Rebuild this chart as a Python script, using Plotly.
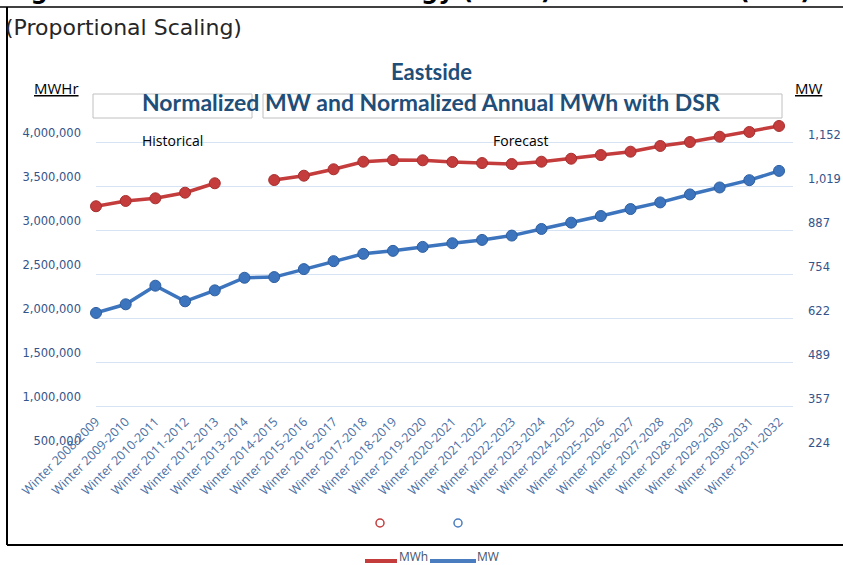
import plotly.graph_objects as go

# ---------------- data ----------------
categories = [f"Winter {y}-{y+1}" for y in range(2008, 2032)]

mwh_values = [3270000, 3330000, 3360000, 3424000, 3531000, None,
              3568000, 3617000, 3690000, 3776000, 3795000, 3792000,
              3773000, 3761000, 3750000, 3776000, 3810000, 3852000,
              3890000, 3955000, 4000000, 4060000, 4114000, 4182000]

mw_values = [637, 663, 719, 672, 705, 743, 745, 769, 793, 815, 824, 836,
             847, 857, 870, 890, 909, 929, 950, 970, 994, 1015, 1037, 1065]

left_tickvals = [500000, 1000000, 1500000, 2000000, 2500000, 3000000, 3500000, 4000000]
left_ticktext = ["500,000", "1,000,000", "1,500,000", "2,000,000", "2,500,000",
                 "3,000,000", "3,500,000", "4,000,000"]
grid_vals = [1000000, 1500000, 2000000, 2500000, 3000000, 3500000, 4000000, 4500000]
right_tickvals = [224, 357, 489, 622, 754, 887, 1019, 1152]
right_ticktext = ["224", "357", "489", "622", "754", "887", "1,019", "1,152"]
legend_names = ["MWh", "MW"]

RED = "#C43C3C"
BLUE = "#3C74BE"
LEG_BLUE = "#4A7CC0"
TICK = "#34548A"

# ---------------- geometry helpers (pixel -> paper) ----------------
L, R, T, B = 96, 50, 98, 115
W, H = 843, 565
PW, PH = W - L - R, H - T - B


def X(px):
    return (px - L) / PW


def Y(py):
    return (H - B - py) / PH


fig = go.Figure()

fig.add_trace(go.Scatter(
    x=categories, y=mwh_values, name=legend_names[0], mode="lines+markers",
    line=dict(color=RED, width=3.5), connectgaps=False,
    marker=dict(size=11, color=RED, line=dict(color="#A83030", width=1)),
    cliponaxis=False, showlegend=False, yaxis="y"))

fig.add_trace(go.Scatter(
    x=categories, y=mw_values, name=legend_names[1], mode="lines+markers",
    line=dict(color=BLUE, width=3.5),
    marker=dict(size=11, color=BLUE, line=dict(color="#2F5F9F", width=1)),
    cliponaxis=False, showlegend=False, yaxis="y2"))

fig.update_layout(
    width=W, height=H,
    margin=dict(l=L, r=R, t=T, b=B, autoexpand=False),
    paper_bgcolor="white", plot_bgcolor="white",
    font=dict(family="Open Sans", size=12, color=TICK),
    showlegend=False,
    xaxis=dict(
        type="category", range=[0, 23.47], showgrid=False, showline=False,
        zeroline=False, ticks="", tickangle=-45, anchor="free", position=Y(411),
        tickfont=dict(family="Open Sans", size=12.5, color="#4A6FA5")),
    yaxis=dict(
        range=[500000, 4500000], tickvals=left_tickvals, ticktext=left_ticktext,
        showgrid=False, zeroline=False, showline=False, ticks="",
        ticklabelstandoff=14, ticklabelshift=-9,
        tickfont=dict(family="DejaVu Sans", size=11.5, color=TICK),
        minor=dict(tickvals=grid_vals, showgrid=True, gridcolor="#D5E3F4",
                   gridwidth=1.2, ticks="")),
    yaxis2=dict(
        range=[224, 224 + 8 * 928 / 7], overlaying="y", side="right",
        tickvals=right_tickvals, ticktext=right_ticktext,
        showgrid=False, zeroline=False, showline=False, ticks="",
        ticklabelstandoff=14, ticklabelshift=-7,
        tickfont=dict(family="DejaVu Sans", size=11.5, color=TICK)),
)

shapes = []
# text-box outlines behind subtitle
shapes.append(dict(type="rect", xref="paper", yref="paper",
                   x0=X(93), x1=X(252), y0=Y(118), y1=Y(94),
                   line=dict(color="#C0C0C0", width=1), layer="below"))
shapes.append(dict(type="rect", xref="paper", yref="paper",
                   x0=X(263), x1=X(782), y0=Y(118), y1=Y(94),
                   line=dict(color="#C0C0C0", width=1), layer="below"))
# outer frame lines
shapes.append(dict(type="line", xref="paper", yref="paper",
                   x0=X(0), x1=X(843), y0=Y(7), y1=Y(7),
                   line=dict(color="black", width=1.5)))
shapes.append(dict(type="line", xref="paper", yref="paper",
                   x0=X(7), x1=X(7), y0=Y(7), y1=Y(545),
                   line=dict(color="black", width=2)))
shapes.append(dict(type="line", xref="paper", yref="paper",
                   x0=X(7), x1=X(843), y0=Y(545), y1=Y(545),
                   line=dict(color="black", width=2)))
# small legend-marker circles
for cx, col in [(380, RED), (458, LEG_BLUE)]:
    shapes.append(dict(type="circle", xref="paper", yref="paper",
                       x0=X(cx - 4), x1=X(cx + 4), y0=Y(527), y1=Y(519),
                       line=dict(color=col, width=1.5)))
# legend lines
shapes.append(dict(type="line", xref="paper", yref="paper",
                   x0=X(365), x1=X(397), y0=Y(561), y1=Y(561),
                   line=dict(color=RED, width=4)))
shapes.append(dict(type="line", xref="paper", yref="paper",
                   x0=X(430), x1=X(476), y0=Y(561), y1=Y(561),
                   line=dict(color=LEG_BLUE, width=4)))
fig.update_layout(shapes=shapes)

ann = []
ann.append(dict(text="<b>Figure 6.10: PSE's Winter Energy (MWh) and Demand (MW)</b>",
                x=X(4), y=Y(7.5), xanchor="left", yanchor="bottom",
                font=dict(family="DejaVu Sans", size=24, color="black")))
ann.append(dict(text="(Proportional Scaling)", x=X(3), y=Y(28),
                xanchor="left", yanchor="middle",
                font=dict(family="DejaVu Sans", size=22, color="#262626")))
ann.append(dict(text="<b>Eastside</b>", x=X(431), y=Y(72),
                xanchor="center", yanchor="middle",
                font=dict(family="Lato", size=22, color="#1F4E79")))
ann.append(dict(text="<b>Normalized MW and Normalized Annual MWh with DSR</b>",
                x=X(431), y=Y(102), xanchor="center", yanchor="middle",
                font=dict(family="Lato", size=23, color="#1F4E79")))
ann.append(dict(text="<span style='text-decoration:underline'>MWHr</span>",
                x=X(32), y=Y(88), xanchor="left", yanchor="middle",
                font=dict(family="Open Sans", size=15, color="black")))
ann.append(dict(text="<span style='text-decoration:underline'>MW</span>",
                x=X(793), y=Y(88), xanchor="left", yanchor="middle",
                font=dict(family="Open Sans", size=15, color="black")))
ann.append(dict(text="Historical", x=X(172), y=Y(140),
                xanchor="center", yanchor="middle",
                font=dict(family="Open Sans", size=14, color="black")))
ann.append(dict(text="Forecast", x=X(520), y=Y(140),
                xanchor="center", yanchor="middle",
                font=dict(family="Open Sans", size=14, color="black")))
ann.append(dict(text=legend_names[0], x=X(397), y=Y(556),
                xanchor="left", yanchor="middle",
                font=dict(family="Open Sans", size=12, color="#44546A")))
ann.append(dict(text=legend_names[1], x=X(475), y=Y(556),
                xanchor="left", yanchor="middle",
                font=dict(family="Open Sans", size=12, color="#44546A")))
for a in ann:
    a.update(xref="paper", yref="paper", showarrow=False)
fig.update_layout(annotations=ann)

fig.write_html("out.html", config={"displayModeBar": False},
               post_script="document.body.style.margin='0px';")
